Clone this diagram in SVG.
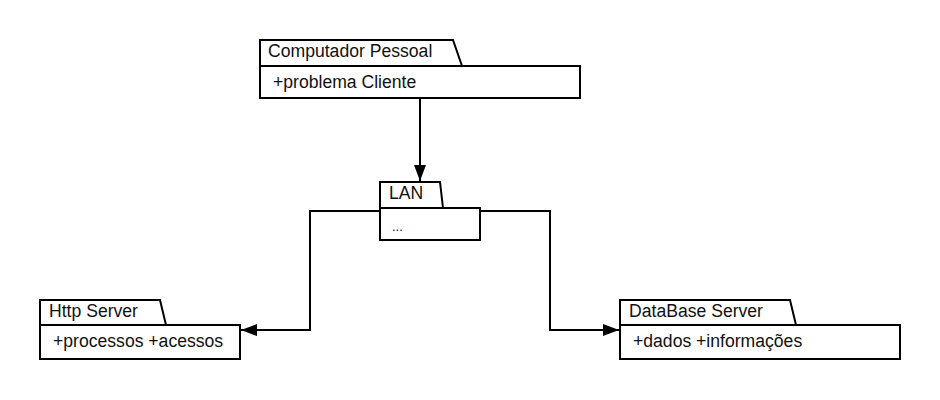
<svg xmlns="http://www.w3.org/2000/svg" width="940" height="400" viewBox="0 0 940 400">
<defs>
<marker id="arr" viewBox="0 0 16 12" refX="16" refY="6" markerWidth="16" markerHeight="12" markerUnits="userSpaceOnUse" orient="auto">
<path d="M0,0 L16,6 L0,12 Z" fill="#000"/>
</marker>
<style>
.box{fill:#fff;stroke:#000;stroke-width:2}
.t{font-family:"Liberation Sans",Arial,sans-serif;font-size:17.6px;fill:#111}
.c{fill:none;stroke:#000;stroke-width:2}
</style>
</defs>
<rect width="940" height="400" fill="#fff"/>
<g id="computador">
<path class="box" d="M260,66 L260,40 L453,40 L462,66 Z"/>
<rect class="box" x="260" y="66" width="320" height="32"/>
<text class="t" x="268" y="57">Computador Pessoal</text>
<text class="t" x="273" y="88">+problema Cliente</text>
</g>
<g id="lan">
<path class="box" d="M380,208 L380,182 L440,182 L443,208 Z"/>
<rect class="box" x="380" y="208" width="100" height="32"/>
<text class="t" x="389" y="199">LAN</text>
<text class="t" x="392" y="231" style="font-size:13px">...</text>
</g>
<g id="http">
<path class="box" d="M40,325 L40,300 L160,300 L166,325 Z"/>
<rect class="box" x="40" y="325" width="200" height="34"/>
<text class="t" x="49" y="317">Http Server</text>
<text class="t" x="53" y="347">+processos +acessos</text>
</g>
<g id="database">
<path class="box" d="M620,325 L620,300 L790,300 L796,325 Z"/>
<rect class="box" x="620" y="325" width="280" height="34"/>
<text class="t" x="629" y="317">DataBase Server</text>
<text class="t" x="633" y="347">+dados +informações</text>
</g>
<g id="connectors">
<path class="c" d="M420,98 L420,181" marker-end="url(#arr)"/>
<path class="c" d="M380,211 L310,211 L310,330 L241,330" marker-end="url(#arr)"/>
<path class="c" d="M480,211 L550,211 L550,330 L619,330" marker-end="url(#arr)"/>
</g>
</svg>
